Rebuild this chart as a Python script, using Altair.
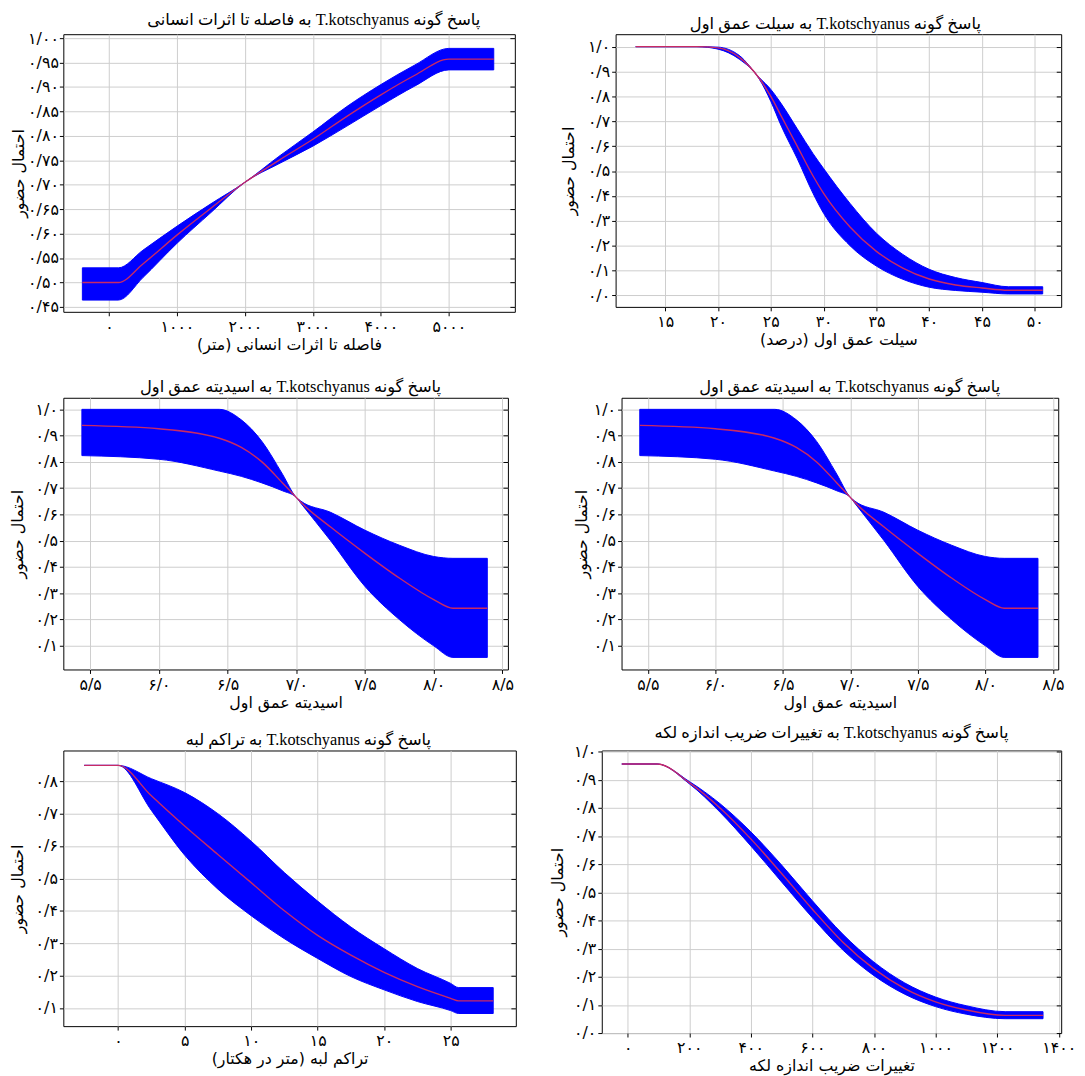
import altair as alt
import pandas as pd

# ---------------- data ----------------
# Panel 1: distance to human effects (m)
p1_x    = [-390, 140, 500, 1000, 1500, 2000, 2500, 3000, 3500, 4000, 4500, 5000, 5660]
p1_mean = [0.50, 0.50, 0.538, 0.597, 0.652, 0.705, 0.75, 0.793, 0.84, 0.884, 0.924, 0.957, 0.957]
p1_lo   = [0.464, 0.464, 0.51, 0.58, 0.643, 0.705, 0.743, 0.779, 0.82, 0.862, 0.902, 0.935, 0.935]
p1_hi   = [0.53, 0.53, 0.566, 0.615, 0.661, 0.705, 0.758, 0.808, 0.86, 0.905, 0.945, 0.979, 0.979]

# Panel 2: silt, first depth (%)
p2_x    = [12.2, 18, 20, 22, 23.9, 25, 26, 27.5, 29, 30, 32.5, 35, 37.5, 40, 42.5, 45, 47.5, 50.75]
p2_mean = [1.0, 1.0, 0.995, 0.958, 0.873, 0.80, 0.72, 0.60, 0.48, 0.41, 0.275, 0.177, 0.11, 0.066, 0.042, 0.03, 0.021, 0.021]
p2_lo   = [1.0, 1.0, 0.99, 0.95, 0.87, 0.78, 0.68, 0.55, 0.41, 0.33, 0.20, 0.118, 0.065, 0.033, 0.02, 0.013, 0.006, 0.006]
p2_hi   = [1.0, 1.0, 0.998, 0.965, 0.876, 0.828, 0.77, 0.67, 0.57, 0.51, 0.37, 0.25, 0.165, 0.105, 0.072, 0.052, 0.035, 0.035]

# Panels 3 & 4: acidity, first depth
p3_x    = [5.44, 6.0, 6.44, 6.6, 6.75, 6.9, 7.0, 7.03, 7.25, 7.5, 7.75, 8.0, 8.14, 8.39]
p3_mean = [0.939, 0.926, 0.89, 0.855, 0.80, 0.72, 0.665, 0.648, 0.552, 0.452, 0.358, 0.276, 0.243, 0.243]
p3_lo   = [0.824, 0.81, 0.765, 0.745, 0.72, 0.69, 0.665, 0.645, 0.50, 0.326, 0.20, 0.10, 0.056, 0.056]
p3_hi   = [1.0, 1.0, 1.0, 0.96, 0.878, 0.753, 0.665, 0.652, 0.608, 0.54, 0.483, 0.44, 0.433, 0.433]

# Panel 5: edge density (m per ha)
p5_x    = [-2.55, 0, 2.5, 5, 7.5, 10, 12.5, 15, 17.5, 20, 22.5, 25, 25.6, 28.2]
p5_mean = [0.849, 0.849, 0.755, 0.662, 0.574, 0.487, 0.40, 0.324, 0.263, 0.21, 0.166, 0.13, 0.122, 0.122]
p5_lo   = [0.849, 0.849, 0.71, 0.572, 0.467, 0.385, 0.314, 0.253, 0.197, 0.156, 0.12, 0.092, 0.083, 0.083]
p5_hi   = [0.849, 0.849, 0.808, 0.765, 0.70, 0.615, 0.518, 0.43, 0.35, 0.283, 0.222, 0.176, 0.163, 0.163]

# Panel 6: patch size coefficient of variation
p6_x    = [-19, 96, 200, 300, 400, 500, 600, 700, 800, 900, 1000, 1100, 1226, 1349]
p6_mean = [0.956, 0.956, 0.89, 0.80, 0.69, 0.567, 0.44, 0.322, 0.228, 0.158, 0.111, 0.082, 0.063, 0.063]
p6_lo   = [0.956, 0.956, 0.886, 0.785, 0.665, 0.537, 0.41, 0.294, 0.204, 0.138, 0.094, 0.067, 0.051, 0.051]
p6_hi   = [0.956, 0.956, 0.894, 0.815, 0.715, 0.597, 0.47, 0.35, 0.252, 0.178, 0.128, 0.097, 0.076, 0.076]

# ---------------- ticks and labels ----------------
p1_xt = [0, 1000, 2000, 3000, 4000, 5000]
p1_xl = ["۰", "۱۰۰۰", "۲۰۰۰", "۳۰۰۰", "۴۰۰۰", "۵۰۰۰"]
p1_yt = [0.45, 0.50, 0.55, 0.60, 0.65, 0.70, 0.75, 0.80, 0.85, 0.90, 0.95, 1.00]
p1_yl = ["۰/۴۵", "۰/۵۰", "۰/۵۵", "۰/۶۰", "۰/۶۵", "۰/۷۰", "۰/۷۵", "۰/۸۰", "۰/۸۵", "۰/۹۰", "۰/۹۵", "۱/۰۰"]

p2_xt = [15, 20, 25, 30, 35, 40, 45, 50]
p2_xl = ["۱۵", "۲۰", "۲۵", "۳۰", "۳۵", "۴۰", "۴۵", "۵۰"]
y01_t = [0.0, 0.1, 0.2, 0.3, 0.4, 0.5, 0.6, 0.7, 0.8, 0.9, 1.0]
y01_l = ["۰/۰", "۰/۱", "۰/۲", "۰/۳", "۰/۴", "۰/۵", "۰/۶", "۰/۷", "۰/۸", "۰/۹", "۱/۰"]

p3_xt = [5.5, 6.0, 6.5, 7.0, 7.5, 8.0, 8.5]
p3_xl = ["۵/۵", "۶/۰", "۶/۵", "۷/۰", "۷/۵", "۸/۰", "۸/۵"]
p3_yt = [0.1, 0.2, 0.3, 0.4, 0.5, 0.6, 0.7, 0.8, 0.9, 1.0]
p3_yl = ["۰/۱", "۰/۲", "۰/۳", "۰/۴", "۰/۵", "۰/۶", "۰/۷", "۰/۸", "۰/۹", "۱/۰"]

p5_xt = [0, 5, 10, 15, 20, 25]
p5_xl = ["۰", "۵", "۱۰", "۱۵", "۲۰", "۲۵"]
p5_yt = [0.1, 0.2, 0.3, 0.4, 0.5, 0.6, 0.7, 0.8]
p5_yl = ["۰/۱", "۰/۲", "۰/۳", "۰/۴", "۰/۵", "۰/۶", "۰/۷", "۰/۸"]

p6_xt = [0, 200, 400, 600, 800, 1000, 1200, 1400]
p6_xl = ["۰", "۲۰۰", "۴۰۰", "۶۰۰", "۸۰۰", "۱۰۰۰", "۱۲۰۰", "۱۴۰۰"]

# ---------------- text ----------------
RLE, PDF = "\u202b", "\u202c"
def rtl(s):
    return RLE + s + PDF

t1 = "پاسخ گونه T.kotschyanus به فاصله تا اثرات انسانی"
t2 = "پاسخ گونه T.kotschyanus به سیلت عمق اول"
t3 = "پاسخ گونه T.kotschyanus به اسیدیته عمق اول"
t5 = "پاسخ گونه T.kotschyanus به تراکم لبه"
t6 = "پاسخ گونه T.kotschyanus به تغییرات ضریب اندازه لکه"
x1 = "فاصله تا اثرات انسانی (متر)"
x2 = "سیلت عمق اول (درصد)"
x3 = "اسیدیته عمق اول"
x5 = "تراکم لبه (متر در هکتار)"
x6 = "تغییرات ضریب اندازه لکه"
ytitle = "احتمال حضور"

FA_FONT = "DejaVu Sans"
TITLE_FONT = "Liberation Serif, DejaVu Sans"
BLUE = "#0000ff"
RED = "#c82a64"
LABEL_FS = 16
ATITLE_FS = 16
TITLE_FS = 16.5


def label_expr(vals, labs):
    parts = [f"abs(datum.value - ({v})) < 1e-9 ? '{l}'" for v, l in zip(vals, labs)]
    return " : ".join(parts) + " : ''"


def panel(xs, mean, lo, hi, xdom, ydom, xt, xl, yt, yl, title, xtitle, w, h,
          dx=0, ytp=4, ylp=2):
    df = pd.DataFrame({"x": xs, "mean": mean, "lo": lo, "hi": hi})
    base = alt.Chart(df)
    xenc = alt.X(
        "x:Q",
        scale=alt.Scale(domain=xdom, nice=False, zero=False),
        axis=alt.Axis(values=xt, labelExpr=label_expr(xt, xl), title=rtl(xtitle),
                      grid=True, tickSize=4, labelPadding=3, titlePadding=2,
                      labelFlush=False, labelOverlap=False, domain=False),
    )
    yscale = alt.Scale(domain=ydom, nice=False, zero=False)
    area = base.mark_area(color=BLUE, stroke=BLUE, strokeWidth=1, opacity=1,
                          interpolate="monotone").encode(
        x=xenc,
        y=alt.Y("lo:Q", scale=yscale,
                axis=alt.Axis(values=yt, labelExpr=label_expr(yt, yl), title=ytitle,
                              grid=True, tickSize=4, labelPadding=ylp, titlePadding=ytp,
                              labelFlush=False, labelOverlap=False, domain=False)),
        y2="hi:Q",
    )
    line = base.mark_line(color=RED, strokeWidth=1.4, interpolate="monotone").encode(
        x=xenc,
        y=alt.Y("mean:Q", scale=yscale,
                axis=alt.Axis(orient="right", values=yt, labels=False, tickSize=5,
                              offset=-5, grid=False, domain=False, title=None)),
    )
    return alt.layer(area, line).resolve_axis(y="independent").properties(
        width=w, height=h,
        title=alt.TitleParams(rtl(title), font=TITLE_FONT, fontSize=TITLE_FS,
                              fontWeight="normal", anchor="middle", offset=2, dx=dx,
                              color="black"),
    )


c1 = panel(p1_x, p1_mean, p1_lo, p1_hi, [-670, 5970], [0.44, 1.008],
           p1_xt, p1_xl, p1_yt, p1_yl, t1, x1, 457, 281, dx=25, ytp=1, ylp=1)
c2 = panel(p2_x, p2_mean, p2_lo, p2_hi, [10.3, 52.5], [-0.046, 1.05],
           p2_xt, p2_xl, y01_t, y01_l, t2, x2, 451, 276, dx=-3, ytp=11)
c3 = panel(p3_x, p3_mean, p3_lo, p3_hi, [5.305, 8.54], [0.01, 1.044],
           p3_xt, p3_xl, p3_yt, p3_yl, t3, x3, 450, 275, dx=5, ytp=10)
c4 = panel(p3_x, p3_mean, p3_lo, p3_hi, [5.305, 8.54], [0.01, 1.044],
           p3_xt, p3_xl, p3_yt, p3_yl, t3, x3, 442, 275, dx=10, ytp=4)
c5 = panel(p5_x, p5_mean, p5_lo, p5_hi, [-4.12, 29.9], [0.044, 0.895],
           p5_xt, p5_xl, p5_yt, p5_yl, t5, x5, 458, 279, dx=19, ytp=10)
c6 = panel(p6_x, p6_mean, p6_lo, p6_hi, [-84, 1408], [0.0, 1.004],
           p6_xt, p6_xl, y01_t, y01_l, t6, x6, 465, 286, dx=0, ytp=8)

row1 = alt.hconcat(c1, c2, spacing=102, bounds="flush")
row2 = alt.hconcat(c3, c4, spacing=115, bounds="flush")
row3 = alt.hconcat(c5, c6, spacing=87, bounds="flush")

top = alt.vconcat(row1, row2, spacing=26)
chart = alt.vconcat(top, row3, spacing=14).configure(
    background="white", padding={"left": 0, "top": -4, "right": 0, "bottom": 0}
).configure_view(
    stroke="black", strokeWidth=1
).configure_axis(
    labelFont=FA_FONT, labelFontSize=LABEL_FS, labelColor="black",
    titleFont=FA_FONT, titleFontSize=ATITLE_FS, titleFontWeight="normal", titleColor="black",
    tickColor="black", gridColor="#cdcdcd", gridWidth=1,
)

chart.save("out.html", embed_options={"renderer": "svg", "actions": False})
